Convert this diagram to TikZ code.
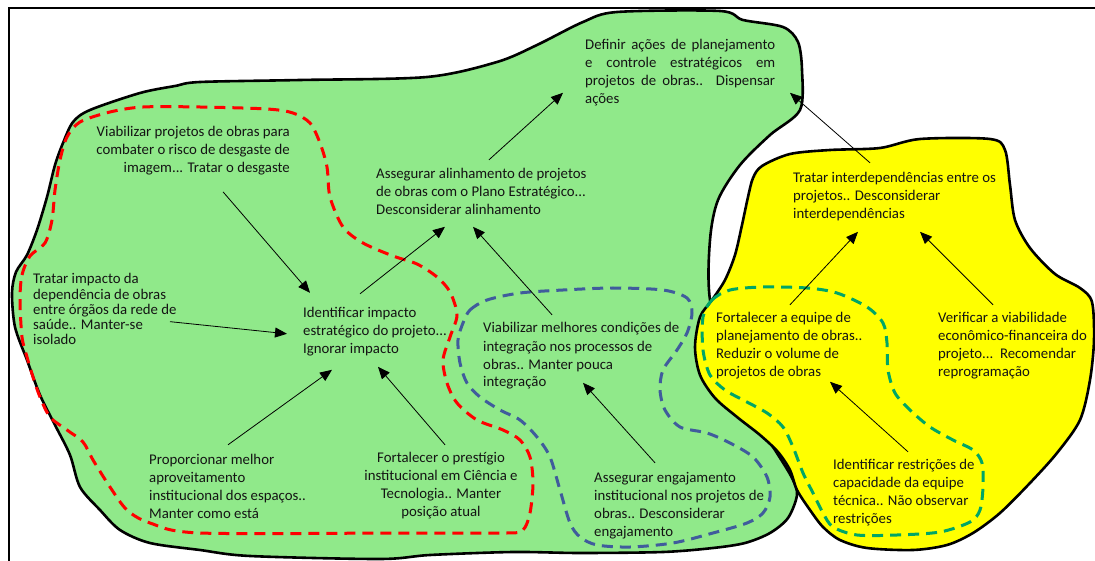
\documentclass[tikz,border=0pt]{standalone}
\usepackage{fontspec}
\setmainfont{Carlito}
\usetikzlibrary{arrows.meta}
\definecolor{blobgreen}{RGB}{144,233,138}
\definecolor{blobyellow}{RGB}{255,255,0}
\definecolor{loopred}{RGB}{255,0,0}
\definecolor{loopblue}{RGB}{64,92,156}
\definecolor{loopteal}{RGB}{0,166,102}
\definecolor{txt}{RGB}{20,20,20}
% text blocks whose baseline is the baseline of their first line
\newcommand\blockL[1]{\begin{tabular}[t]{@{}l@{}}#1\end{tabular}}
\newcommand\blockR[1]{\begin{tabular}[t]{@{}r@{}}#1\end{tabular}}
\newcommand\blockC[1]{\begin{tabular}[t]{@{}c@{}}#1\end{tabular}}
\newcommand\jline[1]{\makebox[190pt][s]{#1}}
\tikzset{
  blob/.style={draw=black, line width=2.6pt, line join=round},
  loop/.style={line width=3pt, dash pattern=on 11pt off 7pt, line join=round},
  concept/.style={inner sep=0pt, text=txt, font=\fontsize{14.8}{18}\selectfont},
  dense/.style={font=\fontsize{14.8}{15.2}\selectfont},
  link/.style={line width=0.8pt, -{Triangle[length=12pt,width=10pt]}}
}
\begin{document}
\begin{tikzpicture}[x=1pt, y=-1pt]
\useasboundingbox (0,0) rectangle (1095,561);

% frame
\draw[line width=1.6pt] (9,561) -- (9,8) -- (1095,8);

% green region
\fill[blobgreen] plot[smooth cycle, tension=0.5] coordinates {
  (200,82) (300,80) (427,77) (497,62) (537,45) (583,22) (617,12) (720,11)
  (743,20) (783,27) (798,42) (802,70) (800,110) (770,135) (740,165) (718,200)
  (710,240) (710,300) (730,380) (775,450) (792,478) (797,495) (788,518)
  (770,533) (745,543) (713,548) (663,552) (580,553) (513,552) (430,555)
  (380,559) (250,556) (200,550) (150,543) (120,530) (100,510) (80,487)
  (70,455) (55,425) (40,395) (27,360) (15,327) (12,293) (16,272) (27,255)
  (37,230) (47,197) (55,165) (63,143) (73,122) (90,110) (140,93) (175,86)};
\draw[blob] plot[smooth cycle, tension=0.5] coordinates {
  (200,82) (300,80) (427,77) (497,62) (537,45) (583,22) (617,12) (720,11)
  (743,20) (783,27) (798,42) (802,70) (800,110) (770,135) (740,165) (718,200)
  (710,240) (710,300) (730,380) (775,450) (792,478) (797,495) (788,518)
  (770,533) (745,543) (713,548) (663,552) (580,553) (513,552) (430,555)
  (380,559) (250,556) (200,550) (150,543) (120,530) (100,510) (80,487)
  (70,455) (55,425) (40,395) (27,360) (15,327) (12,293) (16,272) (27,255)
  (37,230) (47,197) (55,165) (63,143) (73,122) (90,110) (140,93) (175,86)};

% yellow region
\draw[blob, fill=blobyellow] plot[smooth cycle, tension=0.5] coordinates {
  (762,166) (790,154) (830,150) (880,148) (920,139) (990,139) (1005,150)
  (1010,185) (1015,220) (1030,248) (1055,274) (1080,288) (1092,302)
  (1094,340) (1090,380) (1080,420) (1057,453) (1030,483) (1000,513)
  (973,533) (947,545) (913,550) (867,548) (840,540) (823,527) (810,510)
  (797,490) (790,470) (778,452) (760,435) (737,417) (715,398) (700,375)
  (695,347) (700,317) (712,300) (725,280) (735,255) (742,225) (748,197)
  (753,178)};

% dashed groupings
\draw[loop, loopred] plot[smooth cycle, tension=0.5] coordinates {
  (20,300) (22,275) (30,256) (45,243) (52,220) (55,190) (60,160) (67,137)
  (80,122) (110,112) (143,107) (200,107) (267,109) (293,113) (310,123)
  (320,143) (327,167) (330,197) (343,227) (363,243) (393,256) (417,264)
  (437,277) (450,292) (457,315) (450,337) (443,360) (447,383) (457,403)
  (477,420) (503,430) (520,440) (530,457) (533,483) (530,513) (523,530)
  (507,533) (400,533) (200,533) (150,523) (127,510) (110,487) (93,460)
  (83,442) (67,430) (50,417) (40,397) (33,377) (27,357) (22,337)};
\draw[loop, loopblue] plot[smooth cycle, tension=0.5] coordinates {
  (463,323) (470,310) (487,300) (520,293) (563,290) (613,288) (663,290)
  (687,298) (692,313) (687,333) (677,350) (663,370) (660,390) (665,410)
  (680,427) (707,433) (730,443) (753,457) (767,477) (770,497) (763,513)
  (747,523) (713,533) (673,543) (630,547) (597,545) (580,537) (570,523)
  (560,490) (550,457) (537,437) (520,420) (500,410) (480,397) (467,383)
  (460,363) (458,340)};
\draw[loop, loopteal] plot[smooth cycle, tension=0.5] coordinates {
  (703,317) (712,300) (730,290) (763,287) (807,288) (837,293) (867,307)
  (883,323) (887,343) (888,370) (895,393) (910,410) (930,427) (953,440)
  (973,450) (982,463) (983,487) (980,510) (970,522) (940,532) (897,535)
  (857,535) (833,527) (823,513) (813,493) (803,473) (793,447) (783,427)
  (767,413) (745,401) (725,390) (710,375) (703,350)};

% concepts
\node[concept, anchor=base west] (D) at (585,50) {\blockL{%
  \jline{Definir ações de planejamento}\\
  \jline{e controle estratégicos em}\\
  \jline{projetos de obras.. Dispensar}\\
  ações}};
\node[concept, anchor=base west] (A) at (376,179) {\blockL{%
  Assegurar alinhamento de projetos\\
  de obras com o Plano Estratégico...\\
  Desconsiderar alinhamento}};
\node[concept, anchor=base east] (V1) at (290,137) {\blockR{%
  Viabilizar projetos de obras para\\
  combater o risco de desgaste de\\
  imagem... Tratar o desgaste}};
\node[concept, dense, anchor=base west] (T) at (33,284) {\blockL{%
  Tratar impacto da\\
  dependência de obras\\
  entre órgãos da rede de\\
  saúde.. Manter-se\\
  isolado}};
\node[concept, anchor=base west] (I) at (303,317) {\blockL{%
  Identificar impacto\\
  estratégico do projeto...\\
  Ignorar impacto}};
\node[concept, anchor=base west] (P) at (149,464) {\blockL{%
  Proporcionar melhor\\
  aproveitamento\\
  institucional dos espaços..\\
  Manter como está}};
\node[concept, anchor=base] (F) at (441,462) {\blockC{%
  Fortalecer o prestígio\\
  institucional em Ciência e\\
  Tecnologia.. Manter\\
  posição atual}};
\node[concept, anchor=base west] (VM) at (483,333) {\blockL{%
  Viabilizar melhores condições de\\
  integração nos processos de\\
  obras.. Manter pouca\\
  integração}};
\node[concept, anchor=base west] (AE) at (594,482) {\blockL{%
  Assegurar engajamento\\
  institucional nos projetos de\\
  obras.. Desconsiderar\\
  engajamento}};
\node[concept, anchor=base west] (TI) at (793,183) {\blockL{%
  Tratar interdependências entre os\\
  projetos.. Desconsiderar\\
  interdependências}};
\node[concept, anchor=base west] (FE) at (716,323) {\blockL{%
  Fortalecer a equipe de\\
  planejamento de obras..\\
  Reduzir o volume de\\
  projetos de obras}};
\node[concept, anchor=base west] (VE) at (938,323) {\blockL{%
  Verificar a viabilidade\\
  econômico-financeira do\\
  projeto...\ \ Recomendar\\
  reprogramação}};
\node[concept, anchor=base west] (IR) at (833,469) {\blockL{%
  Identificar restrições de\\
  capacidade da equipe\\
  técnica.. Não observar\\
  restrições}};

% influences
\draw[link] ([shift={(113,-6.4)}]A.north west) -- ([shift={(-22,55.6)}]D.north west);
\draw[link] ([shift={(77,-7.4)}]TI.north west) -- ([shift={(205,55.6)}]D.north west);
\draw[link] ([shift={(-67,67.6)}]V1.north east) -- ([shift={(7,-11.4)}]I.north west);
\draw[link] ([shift={(137,48.5)}]T.north west) -- ([shift={(-16,29.6)}]I.north west);
\draw[link] ([shift={(57,-10.4)}]I.north west) -- ([shift={(69,60.6)}]A.north west);
\draw[link] ([shift={(69,-5.4)}]VM.north west) -- ([shift={(97,60.6)}]A.north west);
\draw[link] ([shift={(79,-6.4)}]P.north west) -- ([shift={(29,65.6)}]I.north west);
\draw[link] ([shift={(4,-4.4)}]F.north) -- ([shift={(75,62.6)}]I.north west);
\draw[link] ([shift={(61,-6.4)}]AE.north west) -- ([shift={(100,62.6)}]VM.north west);
\draw[link] ([shift={(74,-5.4)}]FE.north west) -- ([shift={(65,61.6)}]TI.north west);
\draw[link] ([shift={(55,-5.4)}]VE.north west) -- ([shift={(127,61.6)}]TI.north west);
\draw[link] ([shift={(75,-4.4)}]IR.north west) -- ([shift={(114,71.6)}]FE.north west);
\end{tikzpicture}
\end{document}
